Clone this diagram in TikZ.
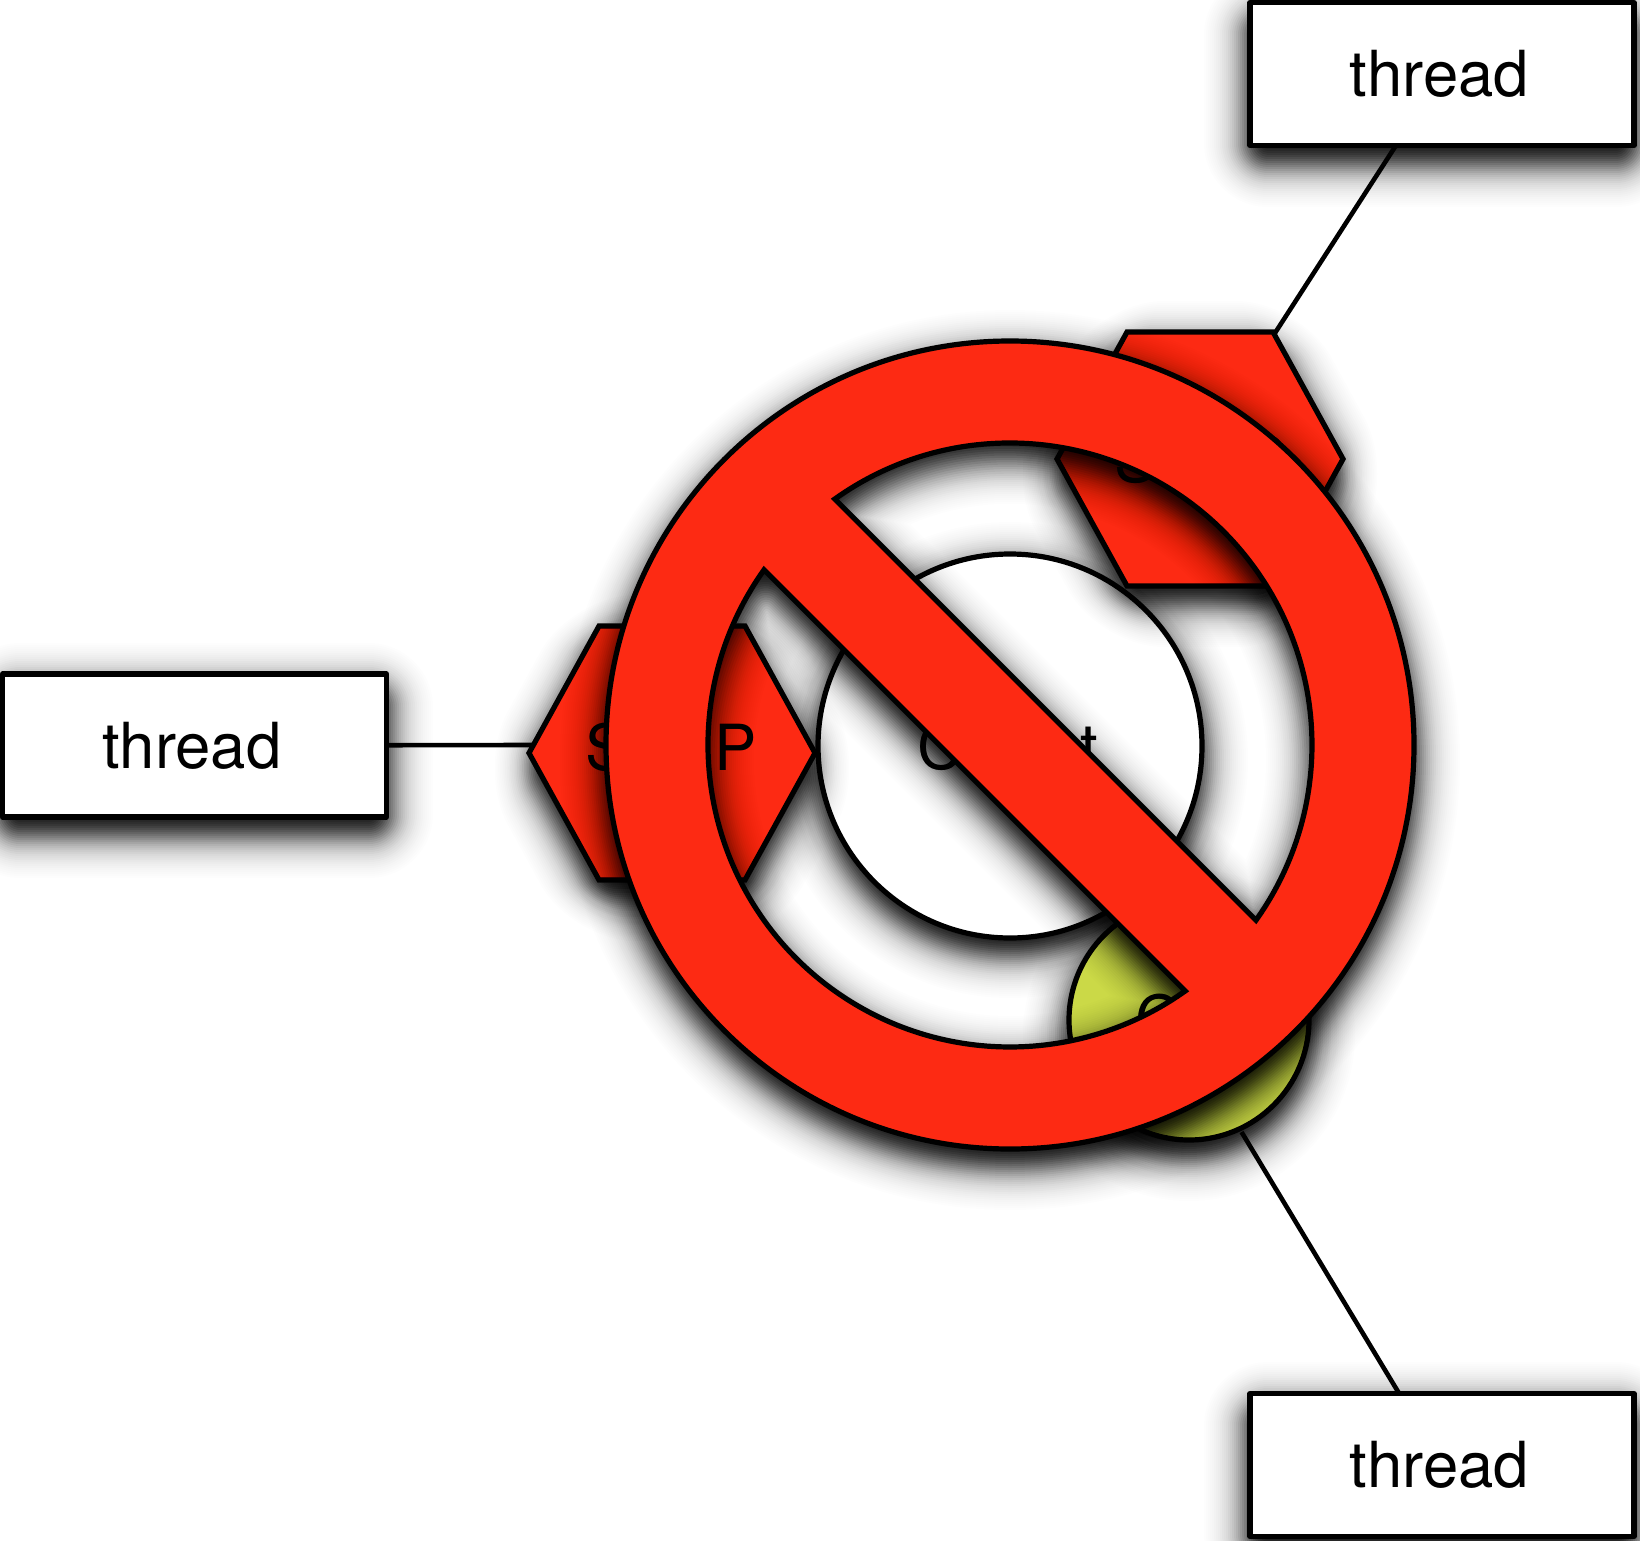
\documentclass[tikz,border=0pt]{standalone}
\usepackage{fontspec}
\setmainfont{TeX Gyre Heros}
\definecolor{signred}{HTML}{FD2A13}
\definecolor{blobgreen}{HTML}{CBD947}
\tikzset{
  x=1pt,y=1pt,
  outline/.style={draw=black,line width=5.2pt},
  threadbox/.style={outline,fill=white,rectangle,line join=round,inner sep=0pt,outer sep=0pt,
     minimum width=384pt,minimum height=143pt,font=\fontsize{63.5}{70}\selectfont},
  roundnode/.style={outline,circle,inner sep=0pt,outer sep=0pt,font=\fontsize{63.5}{70}\selectfont},
  hexshape/.style={outline,fill=signred,line join=miter},
  hexlabel/.style={inner sep=0pt,outer sep=0pt,font=\fontsize{63.5}{70}\selectfont},
  link/.style={draw=black,line width=4.6pt}
}
\newcommand{\shoff}{15}
\newcommand{\laylist}{46,44,...,-40}
% logistic blur profile: \layalpha is the opacity of the layer with offset \dd
\newcommand{\setlay}{%
  \pgfmathsetmacro\Aa{.98/(1+exp((\dd-5)/9))}%
  \pgfmathsetmacro\Ab{.98/(1+exp((\dd-3)/9))}%
  \pgfmathsetmacro\layalpha{1-(1-\Aa)/(1-\Ab)+.004}%
  \pgfmathsetmacro\rc{max(1,\dd+18)}%
  \pgfmathsetmacro\rh{max(1,18-\dd)}}
\newcommand{\circshadow}[3]{\foreach \dd in \laylist {\setlay
  \pgfmathsetmacro\rr{#3+\dd}
  \fill[black,fill opacity=\layalpha] (#1,{#2-\shoff}) circle[radius=\rr];}}
\newcommand{\boxshadow}[4]{\foreach \dd in \laylist {\setlay
  \fill[black,fill opacity=\layalpha,rounded corners=\rc pt] ({#1-\dd},{#2-\shoff-\dd}) rectangle ({#3+\dd},{#4-\shoff+\dd});}}
\newcommand{\hexpath}[3]{% cx cy d
  ({#1+143+1.136*#3},{#2}) -- ({#1+73+.597*#3},{#2+127+#3}) -- ({#1-73-.597*#3},{#2+127+#3})
  -- ({#1-143-1.136*#3},{#2}) -- ({#1-73-.597*#3},{#2-127-#3}) -- ({#1+73+.597*#3},{#2-127-#3}) -- cycle}
\newcommand{\hexshadow}[2]{\foreach \dd in \laylist {\setlay
  \fill[black,fill opacity=\layalpha,rounded corners=\rc pt] \hexpath{#1}{#2-\shoff}{\dd};}}
\newcommand{\signpath}[1]{%
  (0,0) circle[radius={404+#1}]
  ({135-asin((50+#1)/(302-#1))}:{302-#1})
    arc[start angle={135-asin((50+#1)/(302-#1))},end angle={-45+asin((50+#1)/(302-#1))},radius={302-#1}] -- cycle
  ({135+asin((50+#1)/(302-#1))}:{302-#1})
    arc[start angle={135+asin((50+#1)/(302-#1))},end angle={315-asin((50+#1)/(302-#1))},radius={302-#1}] -- cycle}
\begin{document}
\begin{tikzpicture}
\useasboundingbox (0,0) rectangle (1640,-1541);
% centre circle
\circshadow{1010}{-745}{192}
\node[roundnode,fill=white,minimum size=384pt] (object) at (1010,-746) {};
\node[hexlabel] (objectlabel) at (1008,-746) {C\hspace{1.836em}t};
% threads
\boxshadow{2}{-817}{387}{-674}
\boxshadow{1250}{-146}{1634}{-2}
\boxshadow{1250}{-1537}{1634}{-1393}
\node[threadbox] (threadL) at (194.5,-745.5) {\hspace*{-5pt}thread};
\node[threadbox] (threadT) at (1442,-74) {\hspace*{-5pt}thread};
\node[threadbox] (threadB) at (1442,-1465) {\hspace*{-5pt}thread};
% left hexagon
\hexshadow{672}{-753}
\draw[hexshape] \hexpath{672}{-753}{0};
\node[hexlabel] (soapL) at (671,-747.5) {S\hspace{1.36em}P};
\coordinate (tipL) at (532,-745);
% top hexagon
\hexshadow{1200}{-459}
\draw[hexshape] \hexpath{1200}{-459}{0};
\node[hexlabel] (soapT) at (1200,-459) {S\hspace{1.36em}P};
\coordinate (tipT) at (1275,-333);
% green circle
\circshadow{1189}{-1020}{120}
\node[roundnode,fill=blobgreen,minimum size=240pt] (blob) at (1189,-1020) {};
\node[hexlabel,anchor=west] (bloblabel) at (1135,-1018) {C};
\coordinate (tipB) at (1241.5,-1132);
% connectors
\draw[link] (threadL) -- (tipL);
\draw[link] (threadT) -- (tipT);
\draw[link] (threadB) -- (tipB);
% prohibition sign
\begin{scope}[shift={(1010,{-745-\shoff})}]
\foreach \dd in \laylist {\setlay
  \fill[black,fill opacity=\layalpha,even odd rule,rounded corners=\rh pt] \signpath{\dd};}
\end{scope}
\begin{scope}[shift={(1010,-745)}]
\path[outline,fill=signred,even odd rule,line join=miter] \signpath{0};
\end{scope}
\end{tikzpicture}
\end{document}
